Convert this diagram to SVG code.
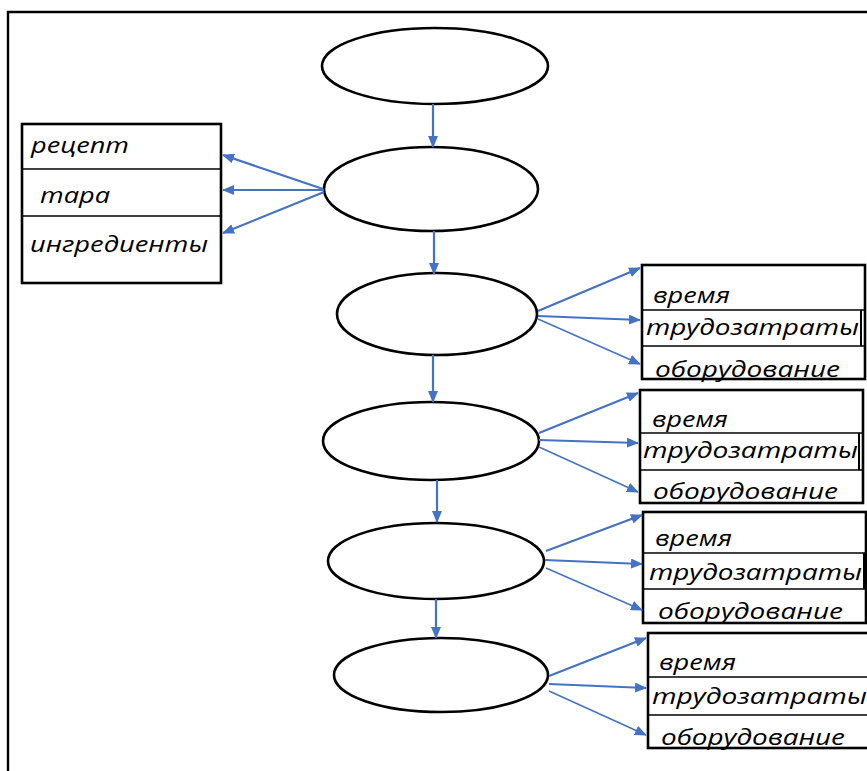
<svg xmlns="http://www.w3.org/2000/svg" width="867" height="771" viewBox="0 0 867 771">
<style>
.el{fill:#fff;stroke:#000;stroke-width:2.6}
.bx{fill:#fff;stroke:#000;stroke-width:2.6}
.dv{stroke:#000;stroke-width:1.6}
.c{stroke:#4472C4;stroke-width:2.2;fill:none}
.ct{stroke:#4472C4;stroke-width:1.5;fill:none}
.t{font-family:"Open Sans","Liberation Sans",sans-serif;font-style:italic;font-size:21px;fill:#000}
</style>
<defs>
<marker id="ah" markerUnits="userSpaceOnUse" markerWidth="12" markerHeight="10" refX="11" refY="5" orient="auto"><path d="M0,0 L12,5 L0,10 z" fill="#4472C4"/></marker>
</defs>
<rect width="867" height="771" fill="#fff"/>
<g id="frame"><path d="M8,771 V12 H867" fill="none" stroke="#000" stroke-width="2.4"/></g>

<g id="e1"><ellipse class="el" cx="435" cy="66" rx="113" ry="38"/></g>
<g id="e2"><ellipse class="el" cx="431" cy="189" rx="107" ry="42"/></g>
<g id="e3"><ellipse class="el" cx="437" cy="314" rx="100" ry="41"/></g>
<g id="e4"><ellipse class="el" cx="431" cy="441" rx="108" ry="39"/></g>
<g id="e5"><ellipse class="el" cx="436" cy="561" rx="108" ry="38"/></g>
<g id="e6"><ellipse class="el" cx="441" cy="675" rx="107" ry="37"/></g>

<g id="leftbox">
<rect class="bx" x="22" y="124" width="199" height="159"/>
<line class="dv" x1="22" y1="169" x2="221" y2="169" stroke-width="2.4"/>
<line class="dv" x1="22" y1="216" x2="221" y2="216" stroke-width="2.4"/>
<text class="t" x="31" y="153" textLength="98" lengthAdjust="spacingAndGlyphs">рецепт</text>
<text class="t" x="40" y="203" textLength="70" lengthAdjust="spacingAndGlyphs">тара</text>
<text class="t" x="30" y="252" textLength="178" lengthAdjust="spacingAndGlyphs">ингредиенты</text>
</g>

<g id="rb1">
<rect class="bx" x="642" y="265" width="223" height="114"/>
<line class="dv" x1="642" y1="310" x2="865" y2="310"/>
<line class="dv" x1="642" y1="346" x2="865" y2="346"/>
<line x1="861" y1="310" x2="861" y2="346" stroke="#000" stroke-width="2"/>
<text class="t" x="653" y="303" textLength="77" lengthAdjust="spacingAndGlyphs">время</text>
<text class="t" x="646" y="335" textLength="213" lengthAdjust="spacingAndGlyphs">трудозатраты</text>
<text class="t" x="655" y="377" textLength="185" lengthAdjust="spacingAndGlyphs">оборудование</text>
</g>
<g id="rb2">
<rect class="bx" x="640" y="390" width="223" height="113"/>
<line class="dv" x1="640" y1="433" x2="863" y2="433"/>
<line class="dv" x1="640" y1="470" x2="863" y2="470"/>
<line x1="859" y1="433" x2="859" y2="470" stroke="#000" stroke-width="2"/>
<text class="t" x="652" y="427" textLength="76" lengthAdjust="spacingAndGlyphs">время</text>
<text class="t" x="643" y="458" textLength="215" lengthAdjust="spacingAndGlyphs">трудозатраты</text>
<text class="t" x="653" y="499" textLength="185" lengthAdjust="spacingAndGlyphs">оборудование</text>
</g>
<g id="rb3">
<rect class="bx" x="643" y="512" width="223" height="111"/>
<line class="dv" x1="643" y1="553" x2="866" y2="553"/>
<line class="dv" x1="643" y1="589" x2="866" y2="589"/>
<line x1="864" y1="553" x2="864" y2="589" stroke="#000" stroke-width="2"/>
<text class="t" x="655" y="546" textLength="77" lengthAdjust="spacingAndGlyphs">время</text>
<text class="t" x="649" y="580" textLength="213" lengthAdjust="spacingAndGlyphs">трудозатраты</text>
<text class="t" x="658" y="619" textLength="185" lengthAdjust="spacingAndGlyphs">оборудование</text>
</g>
<g id="rb4">
<rect class="bx" x="648" y="633" width="225" height="115"/>
<line class="dv" x1="648" y1="677" x2="867" y2="677"/>
<line class="dv" x1="648" y1="715" x2="867" y2="715"/>
<text class="t" x="659" y="670" textLength="77" lengthAdjust="spacingAndGlyphs">время</text>
<text class="t" x="652" y="704" textLength="215" lengthAdjust="spacingAndGlyphs">трудозатраты</text>
<text class="t" x="661" y="745" textLength="184" lengthAdjust="spacingAndGlyphs">оборудование</text>
</g>

<g id="connectors">
<line class="c" x1="433" y1="104" x2="433" y2="147" marker-end="url(#ah)"/>
<line class="c" x1="434" y1="231" x2="434" y2="274" marker-end="url(#ah)"/>
<line class="c" x1="433" y1="355" x2="433" y2="402" marker-end="url(#ah)"/>
<line class="c" x1="437" y1="480" x2="437" y2="522" marker-end="url(#ah)"/>
<line class="c" x1="436" y1="599" x2="436" y2="638" marker-end="url(#ah)"/>

<line class="c" x1="323" y1="189" x2="223" y2="155" marker-end="url(#ah)"/>
<line class="c" x1="324" y1="190" x2="223" y2="190" marker-end="url(#ah)"/>
<line class="c" x1="324" y1="192" x2="223" y2="233" marker-end="url(#ah)"/>

<line class="c" x1="538" y1="311" x2="640" y2="268" marker-end="url(#ah)"/>
<line class="c" x1="538" y1="316" x2="640" y2="320" marker-end="url(#ah)"/>
<line class="ct" x1="538" y1="319" x2="640" y2="364" marker-end="url(#ah)"/>

<line class="c" x1="539" y1="433" x2="638" y2="393" marker-end="url(#ah)"/>
<line class="c" x1="539" y1="440" x2="638" y2="443" marker-end="url(#ah)"/>
<line class="ct" x1="539" y1="447" x2="638" y2="492" marker-end="url(#ah)"/>

<line class="c" x1="546" y1="551" x2="642" y2="515" marker-end="url(#ah)"/>
<line class="c" x1="545" y1="560" x2="642" y2="564" marker-end="url(#ah)"/>
<line class="ct" x1="546" y1="568" x2="642" y2="610" marker-end="url(#ah)"/>

<line class="c" x1="549" y1="676" x2="646" y2="638" marker-end="url(#ah)"/>
<line class="c" x1="549" y1="684" x2="646" y2="688" marker-end="url(#ah)"/>
<line class="ct" x1="549" y1="691" x2="646" y2="735" marker-end="url(#ah)"/>
</g>
</svg>
